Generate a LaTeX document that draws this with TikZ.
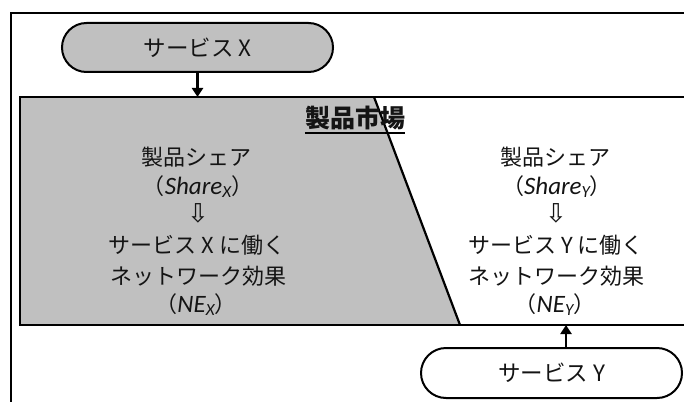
\documentclass[tikz,border=0pt]{standalone}
\usepackage{fontspec}
\setmainfont{Noto Sans CJK JP}
\newfontfamily\latf{Carlito}
\newfontfamily\symf{DejaVu Sans}
\usetikzlibrary{shapes.misc,arrows.meta}
\definecolor{mygray}{RGB}{192,192,192}
\definecolor{txt}{RGB}{20,20,20}
\tikzset{
  pill/.style={rounded rectangle, draw=black, line width=2pt, inner sep=0pt,
    text=txt, font=\fontsize{22.5}{22.5}\selectfont},
  body/.style={font=\fontsize{22}{22}\selectfont, inner sep=0pt, anchor=center, text=txt},
  arr/.style={line width=2.2pt, -{Triangle[length=9pt,width=11pt]}},
  frameline/.style={line width=1.8pt},
  boxline/.style={line width=2.8pt},
}
\newcommand\mysub[2]{（{\latf\itshape\fontsize{25}{25}\selectfont #1}{\latf\itshape\fontsize{17}{17}\selectfont\raisebox{-3pt}{#2}}）}
\newcommand\mydarr{{\symf\fontsize{26}{26}\selectfont ⇩}}
\begin{document}
\begin{tikzpicture}[x=1pt,y=-1pt]
\useasboundingbox (0,0) rectangle (684,401);
\clip (0,0) rectangle (684,401);
% outer frame
\coordinate (fb) at (11,410);
\coordinate (ftl) at (11,13);
\coordinate (fr) at (700,13);
\draw[frameline] (fb) -- (ftl) -- (fr);
% market box
\coordinate (mtl) at (20,97);
\coordinate (mtr) at (700,97);
\coordinate (mbl) at (20,325);
\coordinate (mbr) at (700,325);
\coordinate (st) at (374,97);
\coordinate (sb) at (460,325);
\fill[mygray] (mtl) -- (st) -- (sb) -- (mbl) -- cycle;
\draw[line width=2.2pt] (st) -- (sb);
\draw[boxline] (mtr) -- (mtl) -- (mbl) -- (mbr);
% title
\node[inner sep=0pt, text=txt, font=\fontsize{25}{25}\selectfont\bfseries] (title) at (355,118) {製品市場};
\draw[line width=1.4pt] ([yshift=-3pt]title.south west) -- ([yshift=-3pt]title.south east);
% services
\node[pill, fill=mygray, minimum width=271pt, minimum height=49pt] (sx) at (197.5,47.5) {サービス X};
\node[pill, fill=white, minimum width=261pt, minimum height=50pt] (sy) at (551.5,373) {サービス Y};
\coordinate (ay) at (566,325);
\draw[arr] (sx.south) -- (sx.south |- mtl);
\draw[arr] (sy.north -| ay) -- (ay);
% left column
\node[body] (l1) at (196,157) {製品シェア};
\node[body] (l2) at (198,187) {\mysub{Share}{X}};
\node[body] (l3) at (198,213) {\mydarr};
\node[body] (l4) at (197,245) {サービス X に働く};
\node[body] (l5) at (198,276) {ネットワーク効果};
\node[body] (l6) at (196,305) {\mysub{NE}{X}};
% right column
\node[body] (r1) at (555,157) {製品シェア};
\node[body] (r2) at (557,187) {\mysub{Share}{Y}};
\node[body] (r3) at (556,213) {\mydarr};
\node[body] (r4) at (556,245) {サービス Y に働く};
\node[body] (r5) at (556,276) {ネットワーク効果};
\node[body] (r6) at (555,305) {\mysub{NE}{Y}};
\end{tikzpicture}
\end{document}
